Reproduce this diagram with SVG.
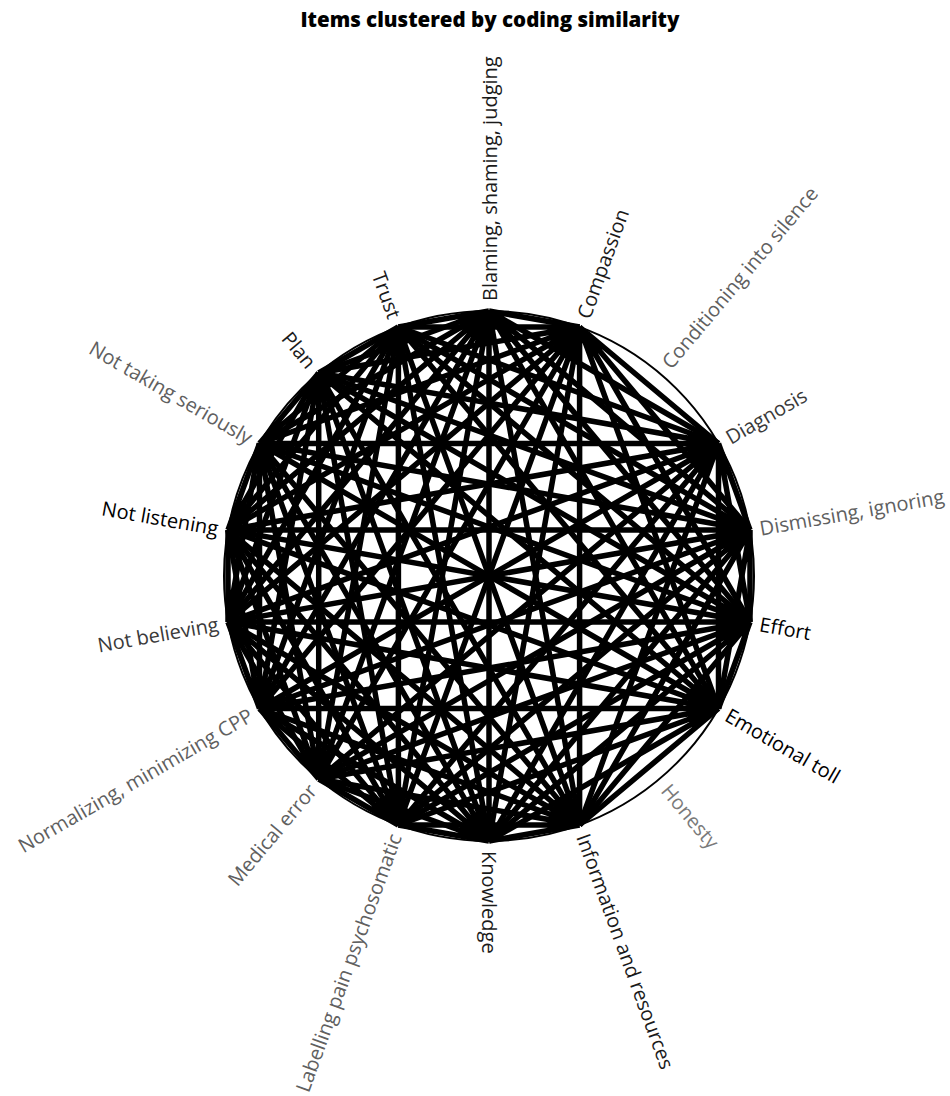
<svg xmlns="http://www.w3.org/2000/svg" width="950" height="1096" viewBox="0 0 950 1096">
<style>
.title{font-family:"Open Sans","Noto Sans","Liberation Sans",sans-serif;font-weight:800;font-size:20.5px;fill:#000;text-anchor:middle}
.lbl{font-family:"Open Sans","Noto Sans","Liberation Sans",sans-serif;font-size:20px;dominant-baseline:central}
.r{text-anchor:start}
.l{text-anchor:end}
.dk{fill:#1a1a1a}
.bk{fill:#000}
.gr{fill:#606060}
.lg{fill:#7a7a7a}
.mid{fill:#3a3a3a}
.edge{fill:none;stroke:#000;stroke-width:5.5}
.rim{fill:none;stroke:#000;stroke-width:2}
</style>
<rect width="950" height="1096" fill="#fff"/>
<text class="title" x="490" y="27">Items clustered by coding similarity</text>
<circle class="rim" cx="489" cy="576" r="265"/>
<g id="connectors">
<path class="edge" d="M489 311L579.6 327M489 311L718.5 443.5M489 311L750 530M489 311L750 622M489 311L718.5 708.5M489 311L579.6 825M489 311L489 841M489 311L398.4 825M489 311L318.7 779M489 311L259.5 708.5M489 311L228 622M489 311L228 530M489 311L259.5 443.5M489 311L318.7 373M489 311L398.4 327"/>
<path class="edge" d="M579.6 327L718.5 443.5M579.6 327L750 530M579.6 327L750 622M579.6 327L718.5 708.5M579.6 327L579.6 825M579.6 327L489 841M579.6 327L398.4 825M579.6 327L318.7 779M579.6 327L259.5 708.5M579.6 327L228 622M579.6 327L228 530M579.6 327L259.5 443.5M579.6 327L318.7 373M579.6 327L398.4 327"/>
<path class="edge" d="M718.5 443.5L750 530M718.5 443.5L750 622M718.5 443.5L718.5 708.5M718.5 443.5L579.6 825M718.5 443.5L489 841M718.5 443.5L398.4 825M718.5 443.5L318.7 779M718.5 443.5L259.5 708.5M718.5 443.5L228 622M718.5 443.5L228 530M718.5 443.5L259.5 443.5M718.5 443.5L318.7 373M718.5 443.5L398.4 327"/>
<path class="edge" d="M750 530L750 622M750 530L718.5 708.5M750 530L579.6 825M750 530L489 841M750 530L398.4 825M750 530L318.7 779M750 530L259.5 708.5M750 530L228 622M750 530L228 530M750 530L259.5 443.5M750 530L318.7 373M750 530L398.4 327"/>
<path class="edge" d="M750 622L718.5 708.5M750 622L579.6 825M750 622L489 841M750 622L398.4 825M750 622L318.7 779M750 622L259.5 708.5M750 622L228 622M750 622L228 530M750 622L259.5 443.5M750 622L318.7 373M750 622L398.4 327"/>
<path class="edge" d="M718.5 708.5L579.6 825M718.5 708.5L489 841M718.5 708.5L398.4 825M718.5 708.5L318.7 779M718.5 708.5L259.5 708.5M718.5 708.5L228 622M718.5 708.5L228 530M718.5 708.5L259.5 443.5M718.5 708.5L318.7 373M718.5 708.5L398.4 327"/>
<path class="edge" d="M579.6 825L489 841M579.6 825L398.4 825M579.6 825L318.7 779M579.6 825L259.5 708.5M579.6 825L228 622M579.6 825L228 530M579.6 825L259.5 443.5M579.6 825L318.7 373M579.6 825L398.4 327"/>
<path class="edge" d="M489 841L398.4 825M489 841L318.7 779M489 841L259.5 708.5M489 841L228 622M489 841L228 530M489 841L259.5 443.5M489 841L318.7 373M489 841L398.4 327"/>
<path class="edge" d="M398.4 825L318.7 779M398.4 825L259.5 708.5M398.4 825L228 622M398.4 825L228 530M398.4 825L259.5 443.5M398.4 825L318.7 373M398.4 825L398.4 327"/>
<path class="edge" d="M318.7 779L259.5 708.5M318.7 779L228 622M318.7 779L228 530M318.7 779L259.5 443.5M318.7 779L318.7 373M318.7 779L398.4 327"/>
<path class="edge" d="M259.5 708.5L228 622M259.5 708.5L228 530M259.5 708.5L259.5 443.5M259.5 708.5L318.7 373M259.5 708.5L398.4 327"/>
<path class="edge" d="M228 622L228 530M228 622L259.5 443.5M228 622L318.7 373M228 622L398.4 327"/>
<path class="edge" d="M228 530L259.5 443.5M228 530L318.7 373M228 530L398.4 327"/>
<path class="edge" d="M259.5 443.5L318.7 373M259.5 443.5L398.4 327"/>
<path class="edge" d="M318.7 373L398.4 327"/>
</g>
<g id="n-blaming"><text class="lbl r dk" transform="translate(489,301) rotate(-90)">Blaming, shaming, judging</text></g>
<g id="n-compassion"><text class="lbl r dk" transform="translate(583.06,317.58) rotate(-70)">Compassion</text></g>
<g id="n-conditioning"><text class="lbl r gr" transform="translate(665.77,365.34) rotate(-50)">Conditioning into silence</text></g>
<g id="n-diagnosis"><text class="lbl r mid" transform="translate(727.16,438.5) rotate(-30)">Diagnosis</text></g>
<g id="n-dismissing"><text class="lbl r gr" transform="translate(759.82,528.25) rotate(-10)">Dismissing, ignoring</text></g>
<g id="n-effort"><text class="lbl r bk" transform="translate(759.82,623.75) rotate(10)">Effort</text></g>
<g id="n-emotional"><text class="lbl r bk" transform="translate(727.16,713.5) rotate(30)">Emotional toll</text></g>
<g id="n-honesty"><text class="lbl r lg" transform="translate(665.77,786.66) rotate(50)">Honesty</text></g>
<g id="n-information"><text class="lbl r dk" transform="translate(583.06,834.42) rotate(70)">Information and resources</text></g>
<g id="n-knowledge"><text class="lbl r dk" transform="translate(489,851) rotate(90)">Knowledge</text></g>
<g id="n-labelling"><text class="lbl l gr" transform="translate(394.94,834.42) rotate(-70)">Labelling pain psychosomatic</text></g>
<g id="n-medical"><text class="lbl l gr" transform="translate(312.23,786.66) rotate(-50)">Medical error</text></g>
<g id="n-normalizing"><text class="lbl l gr" transform="translate(250.84,713.5) rotate(-30)">Normalizing, minimizing CPP</text></g>
<g id="n-notbelieving"><text class="lbl l mid" transform="translate(218.18,623.75) rotate(-10)">Not believing</text></g>
<g id="n-notlistening"><text class="lbl l bk" transform="translate(218.18,528.25) rotate(10)">Not listening</text></g>
<g id="n-nottaking"><text class="lbl l gr" transform="translate(250.84,438.5) rotate(30)">Not taking seriously</text></g>
<g id="n-plan"><text class="lbl l dk" transform="translate(312.23,365.34) rotate(50)">Plan</text></g>
<g id="n-trust"><text class="lbl l dk" transform="translate(394.94,317.58) rotate(70)">Trust</text></g>
</svg>
